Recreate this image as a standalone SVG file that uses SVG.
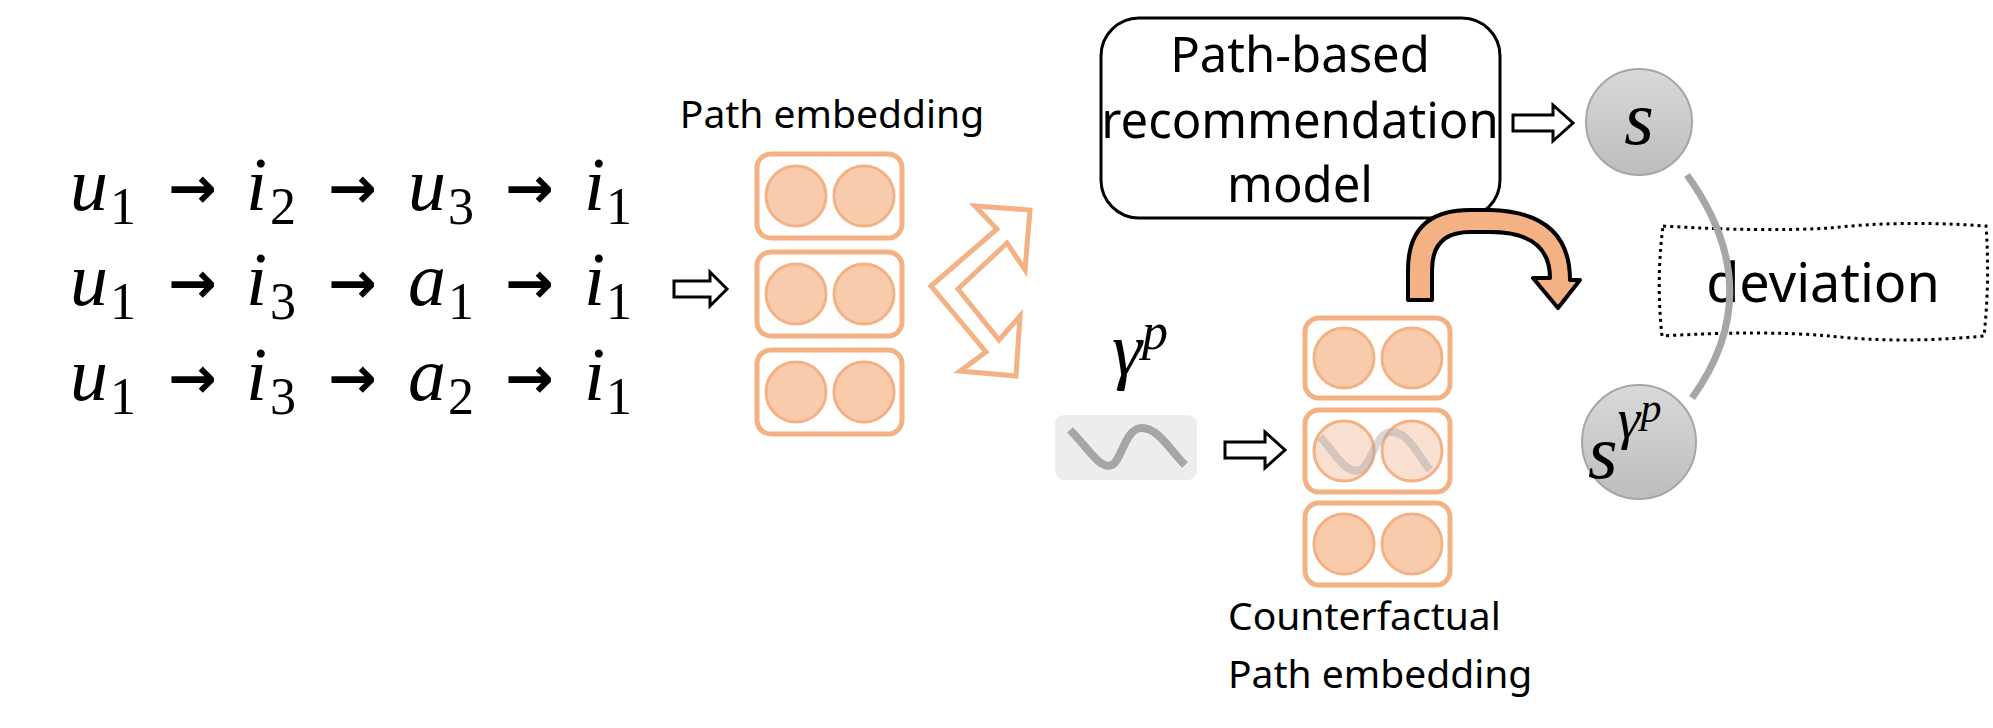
<svg xmlns="http://www.w3.org/2000/svg" width="1993" height="728" viewBox="0 0 1993 728">
<style>
.m{font-family:"Liberation Serif","DejaVu Serif",serif;font-style:italic;font-size:76px;fill:#000}
.sub{font-style:normal;font-size:52px}
.ar{font-family:"DejaVu Sans",sans-serif;font-size:58px;font-style:normal;font-weight:bold}
.t{font-family:"Noto Sans","Open Sans",sans-serif;fill:#000}
.eb{fill:#fff;stroke:#f4b183;stroke-width:5}
.ec{fill:#f8cbad;stroke:#f4b183;stroke-width:3}
.ecl{fill:#fae0d0;stroke:#f4b183;stroke-width:3}
.ha{fill:#fff;stroke:#000;stroke-width:3}
</style>
<defs>
<linearGradient id="g" x1="0" y1="0" x2="0" y2="1"><stop offset="0" stop-color="#d9d9d9"/><stop offset="1" stop-color="#bdbdbd"/></linearGradient>
</defs>
<g id="paths">
<text class="m" y="210"><tspan x="70">u</tspan><tspan class="sub" x="110" dy="14">1</tspan><tspan class="ar" x="168" dy="-16">→</tspan><tspan x="246" dy="2">i</tspan><tspan class="sub" x="270" dy="14">2</tspan><tspan class="ar" x="328" dy="-16">→</tspan><tspan x="408" dy="2">u</tspan><tspan class="sub" x="448" dy="14">3</tspan><tspan class="ar" x="505" dy="-16">→</tspan><tspan x="584" dy="2">i</tspan><tspan class="sub" x="606" dy="14">1</tspan></text>
<text class="m" y="305"><tspan x="70">u</tspan><tspan class="sub" x="110" dy="14">1</tspan><tspan class="ar" x="168" dy="-16">→</tspan><tspan x="246" dy="2">i</tspan><tspan class="sub" x="270" dy="14">3</tspan><tspan class="ar" x="328" dy="-16">→</tspan><tspan x="408" dy="2">a</tspan><tspan class="sub" x="448" dy="14">1</tspan><tspan class="ar" x="505" dy="-16">→</tspan><tspan x="584" dy="2">i</tspan><tspan class="sub" x="606" dy="14">1</tspan></text>
<text class="m" y="400"><tspan x="70">u</tspan><tspan class="sub" x="110" dy="14">1</tspan><tspan class="ar" x="168" dy="-16">→</tspan><tspan x="246" dy="2">i</tspan><tspan class="sub" x="270" dy="14">3</tspan><tspan class="ar" x="328" dy="-16">→</tspan><tspan x="408" dy="2">a</tspan><tspan class="sub" x="448" dy="14">2</tspan><tspan class="ar" x="505" dy="-16">→</tspan><tspan x="584" dy="2">i</tspan><tspan class="sub" x="606" dy="14">1</tspan></text>
</g>
<g id="path-embedding">
<text class="t" x="832" y="128" font-size="39" text-anchor="middle">Path embedding</text>
<rect class="eb" x="757" y="154" width="145" height="84" rx="14"/><circle class="ec" cx="796" cy="196" r="30"/><circle class="ec" cx="864" cy="196" r="30"/>
<rect class="eb" x="757" y="252" width="145" height="84" rx="14"/><circle class="ec" cx="796" cy="294" r="30"/><circle class="ec" cx="864" cy="294" r="30"/>
<rect class="eb" x="757" y="350" width="145" height="84" rx="14"/><circle class="ec" cx="796" cy="392" r="30"/><circle class="ec" cx="864" cy="392" r="30"/>
</g>
<g id="model">
<rect x="1101" y="18" width="399" height="200" rx="38" fill="#fff" stroke="#000" stroke-width="3"/>
<text class="t" font-size="49" text-anchor="middle"><tspan x="1300" y="72">Path-based</tspan><tspan x="1300" y="138">recommendation</tspan><tspan x="1300" y="202">model</tspan></text>
</g>
<g id="s">
<circle cx="1639" cy="122" r="53" fill="url(#g)" stroke="#a6a6a6" stroke-width="2"/>
<text class="m" x="1639" y="144" font-size="80" text-anchor="middle">s</text>
</g>
<g id="s-gamma">
<circle cx="1639" cy="442" r="57" fill="url(#g)" stroke="#a6a6a6" stroke-width="2"/>
<text class="m" x="1588" y="478" font-size="84">s<tspan font-size="58" dy="-40">γ</tspan><tspan font-size="42" dy="-16">p</tspan></text>
</g>
<g id="gamma">
<text class="m" x="1112" y="375" font-size="72">γ<tspan font-size="52" dy="-26">p</tspan></text>
<rect x="1055" y="415" width="142" height="65" rx="9" fill="#ededed"/>
<path d="M1070,430 C1090,450 1100,470 1112,465 C1122,460 1125,428 1142,428 C1158,428 1170,450 1185,465" fill="none" stroke="#a6a6a6" stroke-width="8"/>
</g>
<g id="cf-embedding">
<rect class="eb" x="1305" y="318" width="145" height="80" rx="14"/><circle class="ec" cx="1344" cy="358" r="30"/><circle class="ec" cx="1412" cy="358" r="30"/>
<rect class="eb" x="1305" y="410" width="145" height="82" rx="14"/><circle class="ecl" cx="1344" cy="451" r="30"/><circle class="ecl" cx="1412" cy="451" r="30"/>
<path d="M1320,437 C1335,452 1345,475 1360,470 C1372,466 1375,432 1392,432 C1408,432 1418,455 1430,470" fill="none" stroke="#a6a6a6" stroke-opacity="0.45" stroke-width="8"/>
<rect class="eb" x="1305" y="503" width="145" height="82" rx="14"/><circle class="ec" cx="1344" cy="544" r="30"/><circle class="ec" cx="1412" cy="544" r="30"/>
<text class="t" font-size="39"><tspan x="1228" y="630">Counterfactual</tspan><tspan x="1228" y="688">Path embedding</tspan></text>
</g>
<g id="deviation">
<path d="M1663,226 Q1760,232 1830,228 Q1900,220 1986,226 Q1990,280 1984,336 Q1900,344 1830,336 Q1760,330 1662,336 Q1656,280 1663,226 Z" fill="none" stroke="#000" stroke-width="3" stroke-dasharray="3,4"/>
<text class="t" x="1823" y="302" font-size="54" text-anchor="middle">deviation</text>
</g>
<g id="connectors">
<path class="ha" d="M674,281 L710,281 L710,272 L727,289 L710,306 L710,297 L674,297 Z"/>
<path d="M931,286 L997,229 L975,206 L1030,210 L1025,270 L1007,243 L958,289 L999,340 L1020,316 L1016,376 L960,371 L986,352 Z" fill="#fff" stroke="#f4b183" stroke-width="5"/>
<path class="ha" d="M1513,115 L1553,115 L1553,105 L1573,123 L1553,141 L1553,131 L1513,131 Z"/>
<path class="ha" d="M1225,442 L1265,442 L1265,432 L1285,450 L1265,468 L1265,458 L1225,458 Z"/>
<path d="M1408,300 L1408,270 Q1408,210 1470,210 L1490,210 Q1570,212 1570,280 L1580,280 L1558,308 L1533,278 L1550,278 Q1550,232 1490,232 L1470,232 Q1432,232 1432,270 L1432,300 Z" fill="#f4b183" stroke="#000" stroke-width="4" stroke-linejoin="round"/>
<path d="M1687,175 Q1770,290 1692,398" fill="none" stroke="#a6a6a6" stroke-width="7"/>
</g>
</svg>
